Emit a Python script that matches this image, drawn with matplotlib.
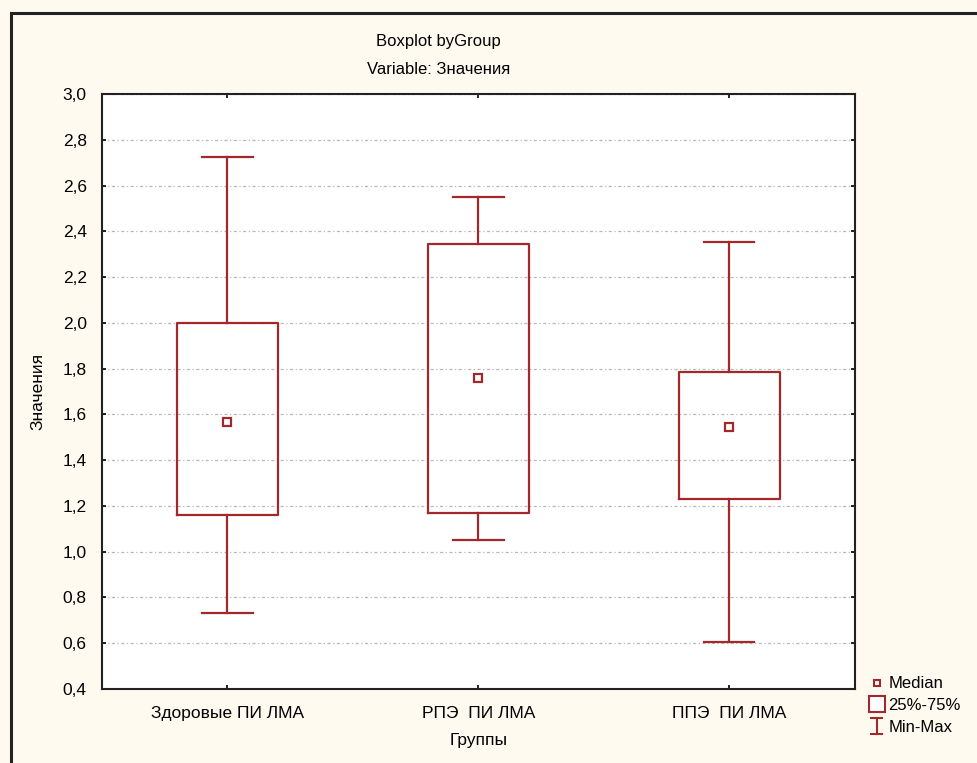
import matplotlib.pyplot as plt
from matplotlib.lines import Line2D
from matplotlib.legend_handler import HandlerBase
from matplotlib.ticker import FuncFormatter
import numpy as np

plt.rcParams['font.family'] = ['Liberation Sans', 'DejaVu Sans']

groups = ['Здоровые ПИ ЛМА', 'РПЭ  ПИ ЛМА', 'ППЭ  ПИ ЛМА']
medians = [1.565, 1.76, 1.547]
q1 = [1.16, 1.167, 1.229]
q3 = [2.0, 2.346, 1.787]
mins = [0.73, 1.05, 0.605]
maxs = [2.725, 2.55, 2.354]

red = '#a3282b'


class MinMaxHandler(HandlerBase):
    # I-shaped symbol for the whisker range
    def create_artists(self, legend, orig_handle, xd, yd, w, h, fontsize, trans):
        cx = xd + w / 2
        y0, y1 = yd - 1.5, yd + h + 1.5
        return [Line2D([cx, cx], [y0, y1], color=red, lw=1.5, transform=trans),
                Line2D([cx - 4, cx + 4], [y0, y0], color=red, lw=1.5, transform=trans),
                Line2D([cx - 4, cx + 4], [y1, y1], color=red, lw=1.5, transform=trans)]


fig = plt.figure(figsize=(9.77, 7.63), dpi=100)
fig.patch.set_facecolor('#fffaf0')
ax = fig.add_axes([0.1044, 0.097, 0.7706, 0.7798])
ax.set_facecolor('white')

stats = []
for i, g in enumerate(groups):
    stats.append(dict(label=g, med=medians[i], q1=q1[i], q3=q3[i],
                      whislo=mins[i], whishi=maxs[i], fliers=[]))
pos = np.arange(len(groups))
ax.bxp(stats, positions=pos, widths=0.4, showfliers=False,
       boxprops=dict(color=red, lw=1.6),
       whiskerprops=dict(color=red, lw=1.6),
       capprops=dict(color=red, lw=1.6),
       medianprops=dict(visible=False), capwidths=0.2)
ax.plot(pos, medians, ls='none', marker='s', ms=6, mfc='white', mec=red, mew=1.6, zorder=5)

ax.set_xlim(-0.5, 2.5)
ax.set_ylim(0.4, 3.0)
ax.set_yticks(np.arange(0.4, 3.01, 0.2))
ax.yaxis.set_major_formatter(FuncFormatter(lambda v, p: f'{v:.1f}'.replace('.', ',')))
ax.set_xticks(pos)
ax.set_xticklabels(groups)
ax.tick_params(direction='in', length=3, width=1.2, top=True, right=True,
               labelsize=12.5, pad=12)
ax.tick_params(axis='y', pad=11)
ax.grid(axis='y', color='#b8b8b8', lw=0.9, ls=(0, (2.5, 2, 1, 2)))
for s in ax.spines.values():
    s.set_linewidth(1.5)
    s.set_color('#222222')

ax.set_xlabel('Группы', fontsize=12.5, labelpad=9)
ax.set_ylabel('Значения', fontsize=12.5, labelpad=12)
fig.text(0.449, 0.946, 'Boxplot byGroup', ha='center', va='center', fontsize=12)
fig.text(0.449, 0.909, 'Variable: Значения', ha='center', va='center', fontsize=12)

handles = [
    Line2D([], [], ls='none', marker='s', ms=5, mfc='white', mec=red, mew=1.5),
    Line2D([], [], ls='none', marker='s', ms=12, mfc='white', mec=red, mew=1.5),
    Line2D([], []),
]
leg = fig.legend(handles, ['Median', '25%-75%', 'Min-Max'], loc='lower left',
                 bbox_to_anchor=(0.883, 0.026), frameon=False, fontsize=12,
                 handlelength=0.7, handletextpad=0.35, labelspacing=0.4, borderpad=0,
                 handler_map={handles[2]: MinMaxHandler()})

fig.add_artist(Line2D([0.011, 0.011], [0, 0.983], color='#222222', lw=2.2))
fig.add_artist(Line2D([0.011, 1.0], [0.983, 0.983], color='#222222', lw=2.2))

fig.savefig('out.png', dpi=100, facecolor=fig.get_facecolor())
